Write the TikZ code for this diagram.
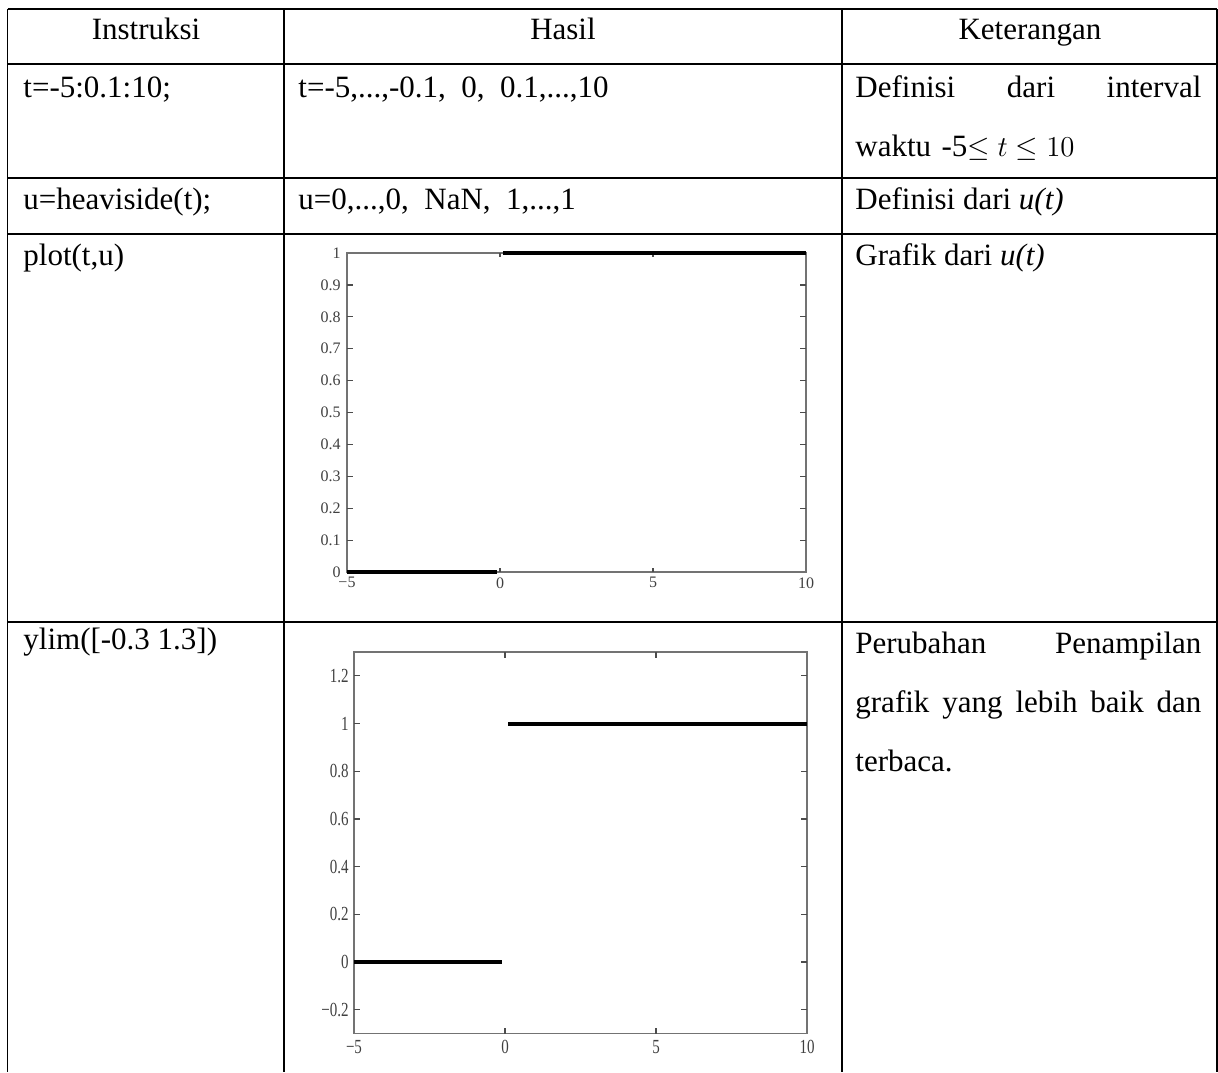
\documentclass[tikz,border=0pt]{standalone}
\usepackage{fontspec}
\setmainfont{Liberation Serif}

\newcommand{\narrownum}[1]{\scalebox{0.75}[1]{#1}}

\begin{document}
\begin{tikzpicture}[
    % one unit = one pixel of the page
    x=0.5pt, y=-0.5pt,
    % Styles
    grid/.style={line width=0.9pt, black},
    head/.style={anchor=base, inner sep=0pt, font=\fontsize{15.5}{15.5}\selectfont},
    cell/.style={anchor=base west, inner sep=0pt, font=\fontsize{15.5}{15.5}\selectfont},
    note/.style={anchor=base west, inner sep=0pt, text width=173pt, align=left, font=\fontsize{15.5}{29.5}\selectfont},
    frame/.style={draw=black!55, line width=0.75pt},
    tick/.style={black!70, line width=0.6pt},
    curve/.style={black, line width=1.6pt},
    num/.style={inner sep=0pt, text=black!75, font=\fontsize{8}{8}\selectfont}
]
\useasboundingbox (0,0) rectangle (1218,1072);

% --- Table rules ---
\draw[grid] (7.5,9) -- (1217,9);
\draw[grid] (7.5,64) -- (1217,64);
\draw[grid] (7.5,178) -- (1217,178);
\draw[grid] (7.5,234) -- (1217,234);
\draw[grid] (7.5,622) -- (1217,622);
\foreach \cx in {7.5,284,842,1217}
  \draw[grid] (\cx,9) -- (\cx,1072);

% --- Header ---
\node[head] (h_ins) at (146,39) {Instruksi};
\node[head] (h_has) at (563,39) {Hasil};
\node[head] (h_ket) at (1030,39) {Keterangan};

% --- Row 1 ---
\node[cell] (ins1) at (23,97) {t=-5:0.1:10;};
\node[cell] (has1) at (298,97) {t=-5,...,-0.1,\ \ 0,\ \ 0.1,...,10};
\node[note] (ket1) at (855,97) {Definisi\hfill dari\hfill interval\\waktu -5$\leq t \leq 10$};

% --- Row 2 ---
\node[cell] (ins2) at (23,209) {u=heaviside(t);};
\node[cell] (has2) at (298,209) {u=0,...,0,\ \ NaN,\ \ 1,...,1};
\node[cell] (ket2) at (855,209) {Definisi dari \textit{u(t)}};

% --- Row 3 ---
\node[cell] (ins3) at (23,265) {plot(t,u)};
\node[cell] (ket3) at (855,265) {Grafik dari \textit{u(t)}};

% plot of u(t), default limits
\begin{scope}[shift={(500,572)}, x=15.3pt, y=159.5pt]
  \draw[frame] (-5,0) rectangle (10,1);
  \foreach \v in {0.1,0.2,...,0.9} {
    \draw[tick] (-5,\v) -- ++(3pt,0);
    \draw[tick] (10,\v) -- ++(-3pt,0);
  }
  \foreach \t in {0,5} {
    \draw[tick] (\t,0) -- ++(0,2pt);
    \draw[tick] (\t,1) -- ++(0,-2pt);
  }
  \foreach \v [count=\i] in {0,0.1,0.2,0.3,0.4,0.5,0.6,0.7,0.8,0.9,1}
    \node[num, anchor=east] (ya\i) at ([xshift=-3pt]-5,\v) {\v};
  \foreach \t/\l [count=\i] in {-5/−5,0/0,5/5,10/10}
    \node[num, anchor=north] (xa\i) at ([yshift=-2.5pt]\t,0) {\l};
  \draw[curve] (-5,0) -- (-0.1,0);
  \draw[curve] (0.1,1) -- (10,1);
\end{scope}

% --- Row 4 ---
\node[cell] (ins4) at (23,649) {ylim([-0.3 1.3])};
\node[note] (ket4) at (855,653) {Perubahan\hfill Penampilan\\grafik\hfill yang\hfill lebih\hfill baik\hfill dan\\terbaca.};

% plot of u(t), ylim([-0.3 1.3])
\begin{scope}[shift={(505,962)}, x=15.1pt, y=119.25pt]
  \draw[frame] (-5,-0.3) rectangle (10,1.3);
  \foreach \v in {-0.2,0,0.2,0.4,0.6,0.8,1,1.2} {
    \draw[tick] (-5,\v) -- ++(3pt,0);
    \draw[tick] (10,\v) -- ++(-3pt,0);
  }
  \foreach \t in {0,5} {
    \draw[tick] (\t,-0.3) -- ++(0,3pt);
    \draw[tick] (\t,1.3) -- ++(0,-3pt);
  }
  \foreach \v/\l [count=\i] in {-0.2/−0.2,0/0,0.2/0.2,0.4/0.4,0.6/0.6,0.8/0.8,1/1,1.2/1.2}
    \node[num, anchor=east, font=\fontsize{10}{10}\selectfont] (yb\i) at ([xshift=-2.5pt]-5,\v) {\narrownum{\l}};
  \foreach \t/\l [count=\i] in {-5/−5,0/0,5/5,10/10}
    \node[num, anchor=north, font=\fontsize{10}{10}\selectfont] (xb\i) at ([yshift=-3pt]\t,-0.3) {\narrownum{\l}};
  \draw[curve, line width=2pt] (-5,0) -- (-0.1,0);
  \draw[curve, line width=2pt] (0.1,1) -- (10,1);
\end{scope}

\end{tikzpicture}
\end{document}
